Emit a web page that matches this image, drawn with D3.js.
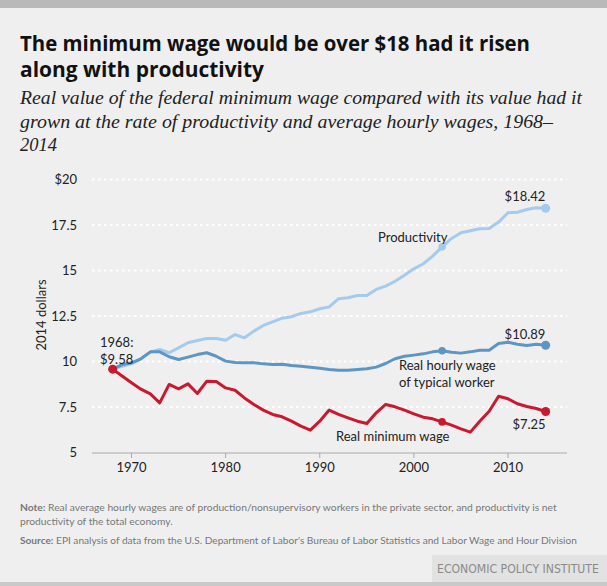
<!DOCTYPE html>
<html><head><meta charset="utf-8">
<script src="https://cdn.jsdelivr.net/npm/d3@7"></script>
<style>
body{margin:0;background:#efefef;}
svg{display:block;}
</style></head>
<body>
<script>
const years = d3.range(1968, 2015);
const minWage = [9.58,9.20,8.83,8.48,8.22,7.73,8.74,8.50,8.77,8.24,8.92,8.90,8.55,8.42,8.00,7.64,7.33,7.09,6.96,6.72,6.45,6.23,6.72,7.33,7.09,6.90,6.72,6.59,7.18,7.64,7.51,7.33,7.12,6.94,6.85,6.68,6.50,6.30,6.12,6.72,7.27,8.09,7.95,7.68,7.53,7.42,7.25];
const productivity = [9.58,9.74,9.87,10.15,10.51,10.66,10.48,10.75,11.03,11.15,11.26,11.26,11.17,11.48,11.30,11.67,11.98,12.18,12.38,12.46,12.64,12.73,12.90,13.00,13.45,13.50,13.63,13.63,13.96,14.14,14.41,14.74,15.09,15.37,15.79,16.30,16.76,17.07,17.18,17.29,17.31,17.66,18.17,18.20,18.35,18.45,18.42];
const wage = [9.58,9.83,9.93,10.15,10.53,10.53,10.26,10.11,10.24,10.38,10.48,10.29,10.02,9.95,9.93,9.93,9.87,9.83,9.85,9.78,9.74,9.69,9.63,9.56,9.52,9.52,9.56,9.60,9.69,9.89,10.15,10.29,10.35,10.42,10.53,10.59,10.51,10.46,10.53,10.62,10.62,10.99,11.06,10.95,10.88,10.95,10.89];
const yTicks = [5,7.5,10,12.5,15,17.5,20];
const yTickLabels = ["5","7.5","10","12.5","15","17.5","$20"];
const xTicks = [1970,1980,1990,2000,2010];
const seriesNames = ["Productivity","Real hourly wage of typical worker","Real minimum wage"];

const W=607,H=586;
const svg=d3.select("body").append("svg").attr("width",W).attr("height",H);
svg.append("rect").attr("width",W).attr("height",H).attr("fill","#efefef");
svg.append("rect").attr("width",W).attr("height",8).attr("fill","#b9b9b9");
svg.append("rect").attr("y",582).attr("width",W).attr("height",4).attr("fill","#c9c9c9");

const sans="Lato, 'Open Sans', sans-serif";
function fit(sel,target){
  const n=sel.node(); const s=parseFloat(sel.attr("font-size")||n.parentNode.getAttribute("font-size"));
  const len=n.getComputedTextLength();
  if(len>0) sel.attr("font-size",s*target/len);
  return sel;
}
// Title
const title=svg.append("g").attr("font-family","'Open Sans', sans-serif").attr("font-weight",700).attr("font-size",21).attr("fill","#111");
title.append("text").attr("x",20).attr("y",51).attr("textLength",510).attr("lengthAdjust","spacingAndGlyphs").text("The minimum wage would be over $18 had it risen");
title.append("text").attr("x",20).attr("y",77).attr("textLength",244).attr("lengthAdjust","spacingAndGlyphs").text("along with productivity");
const sub=svg.append("g").attr("font-family","'Liberation Serif', serif").attr("font-style","italic").attr("font-size",19).attr("fill","#222");
sub.append("text").attr("x",20).attr("y",104).attr("textLength",562).attr("lengthAdjust","spacingAndGlyphs").text("Real value of the federal minimum wage compared with its value had it");
sub.append("text").attr("x",20).attr("y",128).attr("textLength",533).attr("lengthAdjust","spacingAndGlyphs").text("grown at the rate of productivity and average hourly wages, 1968–");
sub.append("text").attr("x",20).attr("y",151).attr("textLength",37).attr("lengthAdjust","spacingAndGlyphs").text("2014");

const x=d3.scaleLinear().domain([1970,2010]).range([131.5,508]);
const y=d3.scaleLinear().domain([5,20]).range([452.5,179.5]);
const x0=92,x1=567;

// grid
svg.append("g").selectAll("line").data(yTicks.filter(d=>d>5)).join("line")
 .attr("x1",x0).attr("x2",x1).attr("y1",d=>y(d)).attr("y2",d=>y(d))
 .attr("stroke","#fff").attr("stroke-width",2).attr("stroke-dasharray","2.5,3.5");
// y labels
svg.append("g").attr("font-family",sans).attr("font-size",13).attr("fill","#222")
 .selectAll("text").data(yTicks).join("text")
 .attr("x",77).attr("y",d=>y(d)).attr("dy","0.35em").attr("text-anchor","end")
 .text((d,i)=>yTickLabels[i]);
svg.append("text").attr("transform",`translate(46,315) rotate(-90)`).attr("text-anchor","middle")
 .attr("font-family",sans).attr("font-size",13).attr("fill","#222").text("2014 dollars");
// x axis
svg.append("line").attr("x1",x0).attr("x2",x1).attr("y1",453).attr("y2",453).attr("stroke","#aaa").attr("stroke-width",1);
svg.append("g").selectAll("line").data(xTicks).join("line")
 .attr("x1",d=>x(d)).attr("x2",d=>x(d)).attr("y1",453).attr("y2",458).attr("stroke","#aaa");
svg.append("g").attr("font-family",sans).attr("font-size",13).attr("fill","#222")
 .selectAll("text").data(xTicks).join("text")
 .attr("x",d=>x(d)).attr("y",472).attr("text-anchor","middle").text(d=>d);

const line=d3.line().x((d,i)=>x(years[i])).y(d=>y(d));
const series=[
 {name:seriesNames[0],vals:productivity,color:"#a4cbee"},
 {name:seriesNames[1],vals:wage,color:"#5d96c3"},
 {name:seriesNames[2],vals:minWage,color:"#c8192e"}];
series.forEach(s=>{
 svg.append("path").attr("d",line(s.vals)).attr("fill","none").attr("stroke",s.color)
  .attr("stroke-width",3).attr("stroke-linejoin","round").attr("stroke-linecap","round");
 const i2003=years.indexOf(2003), iEnd=years.length-1;
 [i2003,iEnd].forEach(i=>svg.append("circle").attr("cx",x(years[i])).attr("cy",y(s.vals[i])).attr("r",i===iEnd?4.5:3.8).attr("fill",s.color));
});
svg.append("circle").attr("cx",x(1968)).attr("cy",y(minWage[0])).attr("r",4.5).attr("fill","#c8192e");

// annotations
const ann=svg.append("g").attr("font-family",sans).attr("font-size",13).attr("fill","#222");
ann.append("text").attr("x",100).attr("y",347).text("1968:");
ann.append("text").attr("x",100).attr("y",364).text("$"+minWage[0].toFixed(2));
ann.append("text").attr("x",525).attr("y",201).attr("text-anchor","middle").text("$"+productivity[productivity.length-1].toFixed(2));
ann.append("text").attr("x",525).attr("y",339).attr("text-anchor","middle").text("$"+wage[wage.length-1].toFixed(2));
ann.append("text").attr("x",529).attr("y",429).attr("text-anchor","middle").text("$"+minWage[minWage.length-1].toFixed(2));
ann.append("text").attr("x",378).attr("y",242).text("Productivity");
ann.append("text").attr("x",399).attr("y",370).text("Real hourly wage");
ann.append("text").attr("x",399).attr("y",387).text("of typical worker");
ann.append("text").attr("x",336).attr("y",441).text("Real minimum wage");

// notes
const notes=svg.append("g").attr("font-family",sans).attr("font-size",11).attr("fill","#777");
const n1=notes.append("text").attr("x",20).attr("y",511).attr("font-size",11);
n1.append("tspan").attr("font-weight",700).text("Note:");
n1.append("tspan").text(" Real average hourly wages are of production/nonsupervisory workers in the private sector, and productivity is net");
fit(n1,537);
notes.append("text").attr("x",20).attr("y",525).attr("font-size",n1.attr("font-size")).text("productivity of the total economy.");
const n3=notes.append("text").attr("x",20).attr("y",544).attr("font-size",11);
n3.append("tspan").attr("font-weight",700).text("Source:");
n3.append("tspan").text(" EPI analysis of data from the U.S. Department of Labor's Bureau of Labor Statistics and Labor Wage and Hour Division");
fit(n3,558);

svg.append("rect").attr("x",432).attr("y",555).attr("width",175).attr("height",27).attr("fill","#e2e2e2");
const epi=svg.append("text").attr("x",437).attr("y",573)
 .attr("font-family","'DejaVu Sans Condensed','DejaVu Sans',sans-serif").attr("font-size",13).attr("fill","#8a8a8a").text("ECONOMIC POLICY INSTITUTE");
fit(epi,162);
</script>
</body></html>
